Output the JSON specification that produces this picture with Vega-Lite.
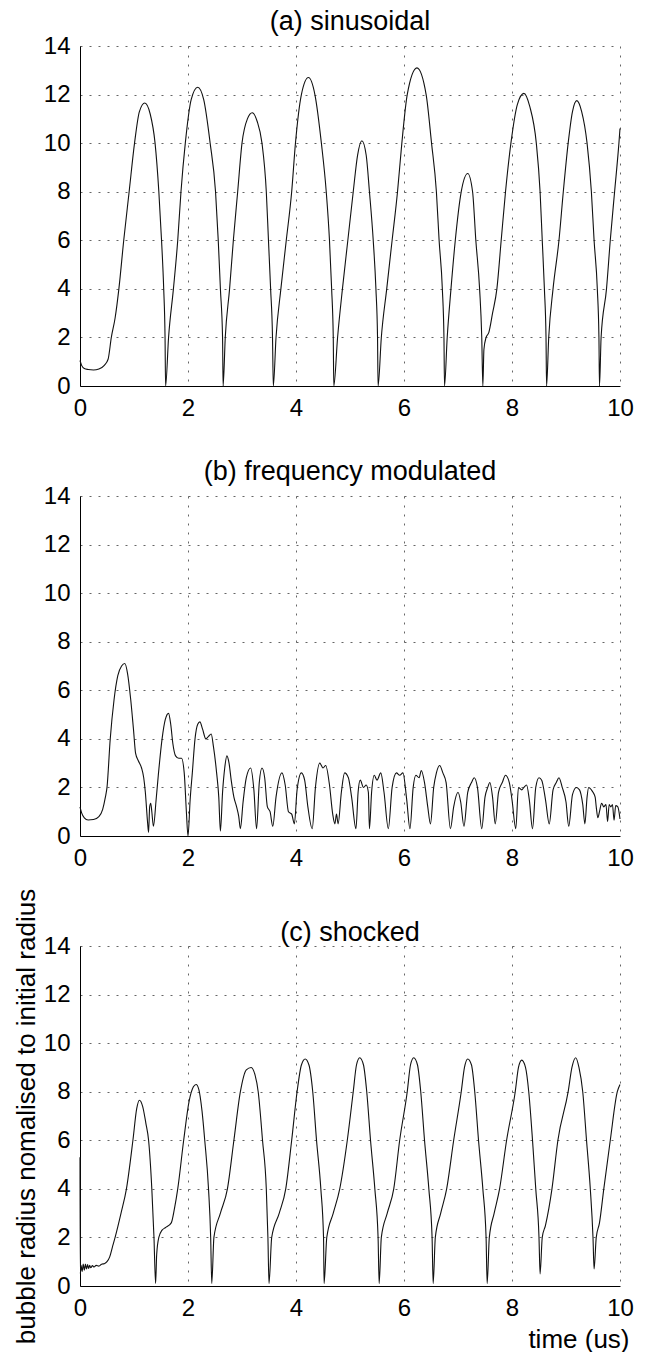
{
  "$schema": "https://vega.github.io/schema/vega-lite/v6.json",
  "background": "white",
  "padding": {"left": 13, "top": 8, "right": 10, "bottom": 0},
  "spacing": 110,
  "bounds": "flush",
  "config": {
    "font": "Liberation Sans",
    "view": {"stroke": null},
    "axis": {
      "labelFont": "Liberation Sans",
      "labelFontSize": 24,
      "labelColor": "#000",
      "labelFlush": false,
      "labelOverlap": false,
      "ticks": false,
      "domainColor": "#000",
      "domainWidth": 1,
      "grid": true,
      "gridColor": "#000",
      "gridOpacity": 0.6,
      "gridDash": [2, 7],
      "gridWidth": 1,
      "titleFont": "Liberation Sans",
      "titleFontWeight": "normal",
      "titleColor": "#000"
    },
    "axisX": {"labelPadding": 10},
    "axisY": {"labelPadding": 10},
    "title": {"font": "Liberation Sans", "fontSize": 27, "fontWeight": "normal", "color": "#000", "offset": -2}
  },
  "datasets": {
    "a": [
      {"t":0,"r":1.05},{"t":0.03,"r":0.85},{"t":0.08,"r":0.72},{"t":0.15,"r":0.68},{"t":0.25,"r":0.66},{"t":0.35,"r":0.7},{"t":0.45,"r":0.85},{"t":0.52,"r":1.1},{"t":0.58,"r":2.0},{"t":0.65,"r":2.8},{"t":0.72,"r":4.0},{"t":0.81,"r":6.0},{"t":0.91,"r":8.0},{"t":1.01,"r":10.0},{"t":1.1,"r":11.3},{"t":1.2,"r":11.65},{"t":1.3,"r":11.2},{"t":1.39,"r":10.0},{"t":1.46,"r":8.0},{"t":1.51,"r":6.0},{"t":1.55,"r":4.0},{"t":1.575,"r":2.0},{"t":1.585,"r":0.0},
      {"t":1.64,"r":2.0},{"t":1.73,"r":4.0},{"t":1.81,"r":6.0},{"t":1.87,"r":8.0},{"t":1.95,"r":10.0},{"t":2.06,"r":11.8},{"t":2.18,"r":12.3},{"t":2.29,"r":11.8},{"t":2.41,"r":10.0},{"t":2.51,"r":8.0},{"t":2.56,"r":6.0},{"t":2.6,"r":4.0},{"t":2.64,"r":2.0},{"t":2.65,"r":0.0},
      {"t":2.69,"r":2.0},{"t":2.77,"r":4.0},{"t":2.84,"r":6.0},{"t":2.92,"r":8.0},{"t":3.0,"r":10.0},{"t":3.1,"r":11.0},{"t":3.19,"r":11.25},{"t":3.28,"r":10.9},{"t":3.37,"r":10.0},{"t":3.45,"r":8.0},{"t":3.49,"r":6.0},{"t":3.53,"r":4.0},{"t":3.565,"r":2.0},{"t":3.58,"r":0.0},
      {"t":3.63,"r":2.0},{"t":3.72,"r":4.0},{"t":3.82,"r":6.0},{"t":3.92,"r":8.0},{"t":3.99,"r":10.0},{"t":4.1,"r":12.0},{"t":4.23,"r":12.7},{"t":4.35,"r":12.0},{"t":4.47,"r":10.0},{"t":4.56,"r":8.0},{"t":4.62,"r":6.0},{"t":4.66,"r":4.0},{"t":4.69,"r":2.0},{"t":4.7,"r":0.0},
      {"t":4.77,"r":2.0},{"t":4.86,"r":4.0},{"t":4.96,"r":6.0},{"t":5.06,"r":8.0},{"t":5.14,"r":9.5},{"t":5.22,"r":10.1},{"t":5.3,"r":9.5},{"t":5.36,"r":8.0},{"t":5.43,"r":6.0},{"t":5.48,"r":4.0},{"t":5.51,"r":2.0},{"t":5.52,"r":0.0},
      {"t":5.58,"r":2.0},{"t":5.68,"r":4.0},{"t":5.78,"r":6.0},{"t":5.88,"r":8.0},{"t":5.96,"r":10.0},{"t":6.06,"r":12.0},{"t":6.24,"r":13.1},{"t":6.41,"r":12.0},{"t":6.51,"r":10.0},{"t":6.6,"r":8.0},{"t":6.65,"r":6.0},{"t":6.71,"r":4.0},{"t":6.74,"r":2.0},{"t":6.75,"r":0.0},
      {"t":6.8,"r":2.0},{"t":6.87,"r":4.0},{"t":6.95,"r":6.0},{"t":7.06,"r":8.0},{"t":7.18,"r":8.75},{"t":7.27,"r":8.0},{"t":7.33,"r":6.0},{"t":7.4,"r":4.0},{"t":7.44,"r":2.0},{"t":7.46,"r":0.0},
      {"t":7.48,"r":1.5},{"t":7.52,"r":2.0},{"t":7.57,"r":2.2},{"t":7.64,"r":3.0},{"t":7.72,"r":4.0},{"t":7.8,"r":6.0},{"t":7.88,"r":8.0},{"t":7.98,"r":10.0},{"t":8.1,"r":11.6},{"t":8.22,"r":12.05},{"t":8.33,"r":11.5},{"t":8.45,"r":10.0},{"t":8.52,"r":8.0},{"t":8.56,"r":6.0},{"t":8.6,"r":4.0},{"t":8.63,"r":2.0},{"t":8.64,"r":0.0},
      {"t":8.68,"r":2.0},{"t":8.76,"r":4.0},{"t":8.87,"r":6.0},{"t":8.95,"r":8.0},{"t":9.04,"r":10.0},{"t":9.12,"r":11.3},{"t":9.2,"r":11.75},{"t":9.29,"r":11.3},{"t":9.39,"r":10.0},{"t":9.47,"r":8.0},{"t":9.52,"r":6.0},{"t":9.58,"r":4.0},{"t":9.61,"r":2.0},{"t":9.62,"r":0.0},
      {"t":9.65,"r":2.0},{"t":9.75,"r":4.0},{"t":9.82,"r":6.0},{"t":9.9,"r":8.0},{"t":9.98,"r":10.0},{"t":10,"r":10.6}
    ],
    "b": [
      {"t":0,"r":1.2},{"t":0.03,"r":0.95},{"t":0.08,"r":0.75},{"t":0.15,"r":0.66},{"t":0.25,"r":0.68},{"t":0.35,"r":0.8},{"t":0.42,"r":1.1},{"t":0.47,"r":1.6},{"t":0.5,"r":2.0},{"t":0.56,"r":4.0},{"t":0.63,"r":5.6},{"t":0.7,"r":6.6},{"t":0.77,"r":7.0},{"t":0.83,"r":7.1},{"t":0.88,"r":6.7},{"t":0.94,"r":5.6},{"t":0.99,"r":4.4},{"t":1.03,"r":3.4},{"t":1.08,"r":3.1},{"t":1.14,"r":2.8},{"t":1.18,"r":2.4},{"t":1.21,"r":1.8},{"t":1.25,"r":0.6},{"t":1.27,"r":0.15},{"t":1.29,"r":1.2},{"t":1.31,"r":1.35},{"t":1.33,"r":1.0},{"t":1.36,"r":0.4},{"t":1.41,"r":1.5},{"t":1.45,"r":2.5},{"t":1.52,"r":4.0},{"t":1.58,"r":4.8},{"t":1.64,"r":5.05},{"t":1.68,"r":4.6},{"t":1.72,"r":3.8},{"t":1.77,"r":3.3},{"t":1.83,"r":3.2},{"t":1.88,"r":3.2},{"t":1.93,"r":2.6},{"t":1.97,"r":1.0},{"t":2.0,"r":0.0},
      {"t":2.04,"r":1.5},{"t":2.08,"r":2.6},{"t":2.13,"r":4.0},{"t":2.18,"r":4.6},{"t":2.22,"r":4.7},{"t":2.27,"r":4.4},{"t":2.33,"r":4.0},{"t":2.38,"r":4.1},{"t":2.43,"r":4.2},{"t":2.47,"r":3.7},{"t":2.53,"r":2.6},{"t":2.57,"r":1.6},{"t":2.6,"r":0.2},{"t":2.64,"r":1.8},{"t":2.68,"r":2.8},{"t":2.72,"r":3.3},{"t":2.76,"r":3.0},{"t":2.8,"r":2.3},{"t":2.85,"r":1.6},{"t":2.9,"r":1.2},{"t":2.94,"r":0.8},{"t":2.97,"r":0.3},
      {"t":3.02,"r":1.4},{"t":3.08,"r":2.4},{"t":3.16,"r":2.8},{"t":3.22,"r":1.9},{"t":3.27,"r":0.3},{"t":3.32,"r":2.2},{"t":3.37,"r":2.8},{"t":3.42,"r":2.4},{"t":3.47,"r":1.2},{"t":3.52,"r":1.0},{"t":3.57,"r":0.4},{"t":3.63,"r":1.6},{"t":3.74,"r":2.6},{"t":3.8,"r":2.1},{"t":3.86,"r":1.0},{"t":3.92,"r":0.9},{"t":3.97,"r":0.5},
      {"t":4.02,"r":1.9},{"t":4.1,"r":2.6},{"t":4.16,"r":2.3},{"t":4.22,"r":1.2},{"t":4.3,"r":0.3},{"t":4.36,"r":2.0},{"t":4.44,"r":3.0},{"t":4.5,"r":2.8},{"t":4.55,"r":2.9},{"t":4.62,"r":2.1},{"t":4.68,"r":0.9},{"t":4.72,"r":0.5},{"t":4.75,"r":0.9},{"t":4.78,"r":0.5},{"t":4.84,"r":1.8},{"t":4.9,"r":2.6},{"t":4.97,"r":2.4},
      {"t":5.03,"r":1.6},{"t":5.11,"r":0.3},{"t":5.15,"r":1.8},{"t":5.19,"r":2.3},{"t":5.25,"r":2.0},{"t":5.3,"r":2.1},{"t":5.34,"r":1.8},{"t":5.36,"r":0.3},{"t":5.4,"r":1.8},{"t":5.45,"r":2.5},{"t":5.5,"r":2.3},{"t":5.57,"r":2.6},{"t":5.63,"r":1.8},{"t":5.71,"r":0.3},{"t":5.78,"r":2.0},{"t":5.86,"r":2.6},{"t":5.92,"r":2.5},{"t":5.98,"r":2.6},
      {"t":6.05,"r":1.5},{"t":6.11,"r":0.3},{"t":6.17,"r":2.0},{"t":6.22,"r":2.5},{"t":6.28,"r":2.4},{"t":6.32,"r":2.7},{"t":6.38,"r":2.2},{"t":6.44,"r":1.2},{"t":6.49,"r":0.5},{"t":6.55,"r":2.0},{"t":6.6,"r":2.6},{"t":6.66,"r":2.9},{"t":6.72,"r":2.6},{"t":6.78,"r":2.2},{"t":6.86,"r":0.3},{"t":6.92,"r":1.2},
      {"t":7.0,"r":1.8},{"t":7.05,"r":1.4},{"t":7.11,"r":0.4},{"t":7.18,"r":1.8},{"t":7.25,"r":2.2},{"t":7.3,"r":2.4},{"t":7.36,"r":2.0},{"t":7.44,"r":0.3},{"t":7.5,"r":1.6},{"t":7.55,"r":2.0},{"t":7.59,"r":2.2},{"t":7.64,"r":1.6},{"t":7.69,"r":0.5},{"t":7.75,"r":1.8},{"t":7.82,"r":2.2},{"t":7.88,"r":2.5},{"t":7.95,"r":2.2},
      {"t":8.0,"r":1.5},{"t":8.07,"r":0.3},{"t":8.12,"r":2.0},{"t":8.18,"r":1.9},{"t":8.22,"r":2.0},{"t":8.27,"r":2.1},{"t":8.32,"r":1.5},{"t":8.38,"r":0.3},{"t":8.44,"r":2.0},{"t":8.5,"r":2.4},{"t":8.55,"r":2.3},{"t":8.62,"r":1.5},{"t":8.69,"r":0.5},{"t":8.76,"r":1.9},{"t":8.82,"r":2.2},{"t":8.87,"r":2.4},{"t":8.93,"r":2.0},
      {"t":9.0,"r":1.4},{"t":9.05,"r":0.4},{"t":9.12,"r":1.7},{"t":9.19,"r":2.0},{"t":9.25,"r":1.9},{"t":9.31,"r":1.3},{"t":9.35,"r":0.5},{"t":9.39,"r":1.6},{"t":9.42,"r":2.0},{"t":9.47,"r":1.9},{"t":9.5,"r":1.8},{"t":9.54,"r":1.6},{"t":9.56,"r":1.2},{"t":9.59,"r":0.75},{"t":9.62,"r":1.0},{"t":9.66,"r":1.35},{"t":9.7,"r":1.2},{"t":9.74,"r":1.3},{"t":9.77,"r":0.6},{"t":9.8,"r":1.3},{"t":9.83,"r":1.2},{"t":9.86,"r":1.3},{"t":9.89,"r":0.65},{"t":9.92,"r":1.25},{"t":9.96,"r":1.2},{"t":10,"r":0.7}
    ],
    "c": [
      {"t":0,"r":5.3},{"t":0.005,"r":0.5},{"t":0.02,"r":0.85},{"t":0.04,"r":0.6},{"t":0.06,"r":0.9},{"t":0.08,"r":0.65},{"t":0.1,"r":0.9},{"t":0.12,"r":0.7},{"t":0.14,"r":0.88},{"t":0.16,"r":0.72},{"t":0.18,"r":0.85},{"t":0.2,"r":0.75},{"t":0.23,"r":0.84},{"t":0.26,"r":0.78},{"t":0.3,"r":0.85},{"t":0.35,"r":0.82},{"t":0.4,"r":0.9},{"t":0.45,"r":0.92},{"t":0.5,"r":1.0},{"t":0.55,"r":1.2},{"t":0.6,"r":1.6},{"t":0.65,"r":2.0},{"t":0.76,"r":3.0},{"t":0.86,"r":4.0},{"t":0.98,"r":6.0},{"t":1.05,"r":7.3},{"t":1.1,"r":7.65},{"t":1.16,"r":7.4},{"t":1.22,"r":6.7},{"t":1.27,"r":6.0},{"t":1.33,"r":4.0},{"t":1.37,"r":2.0},{"t":1.4,"r":0.1},
      {"t":1.42,"r":1.3},{"t":1.46,"r":2.0},{"t":1.52,"r":2.3},{"t":1.58,"r":2.4},{"t":1.69,"r":2.6},{"t":1.75,"r":3.2},{"t":1.81,"r":4.0},{"t":1.92,"r":6.0},{"t":2.02,"r":7.6},{"t":2.1,"r":8.2},{"t":2.15,"r":8.3},{"t":2.2,"r":8.1},{"t":2.26,"r":7.2},{"t":2.31,"r":6.0},{"t":2.38,"r":4.0},{"t":2.42,"r":2.0},{"t":2.44,"r":0.1},
      {"t":2.48,"r":2.0},{"t":2.6,"r":3.0},{"t":2.73,"r":4.0},{"t":2.85,"r":6.0},{"t":2.97,"r":8.0},{"t":3.08,"r":8.9},{"t":3.17,"r":9.0},{"t":3.24,"r":8.7},{"t":3.3,"r":8.0},{"t":3.38,"r":6.0},{"t":3.45,"r":4.0},{"t":3.48,"r":2.0},{"t":3.5,"r":0.1},
      {"t":3.55,"r":2.0},{"t":3.69,"r":3.0},{"t":3.81,"r":4.0},{"t":3.92,"r":6.0},{"t":4.02,"r":8.0},{"t":4.1,"r":9.1},{"t":4.17,"r":9.35},{"t":4.24,"r":9.1},{"t":4.31,"r":8.0},{"t":4.38,"r":6.0},{"t":4.46,"r":4.0},{"t":4.51,"r":2.0},{"t":4.52,"r":0.1},
      {"t":4.57,"r":2.0},{"t":4.69,"r":3.0},{"t":4.81,"r":4.0},{"t":4.95,"r":6.0},{"t":5.06,"r":8.0},{"t":5.12,"r":9.1},{"t":5.18,"r":9.4},{"t":5.25,"r":9.1},{"t":5.31,"r":8.0},{"t":5.38,"r":6.0},{"t":5.46,"r":4.0},{"t":5.52,"r":2.0},{"t":5.54,"r":0.1},
      {"t":5.58,"r":2.0},{"t":5.69,"r":3.0},{"t":5.81,"r":4.0},{"t":5.92,"r":6.0},{"t":6.06,"r":8.0},{"t":6.12,"r":9.1},{"t":6.18,"r":9.4},{"t":6.25,"r":9.1},{"t":6.31,"r":8.0},{"t":6.38,"r":6.0},{"t":6.46,"r":4.0},{"t":6.52,"r":2.0},{"t":6.54,"r":0.1},
      {"t":6.58,"r":2.0},{"t":6.68,"r":3.0},{"t":6.79,"r":4.0},{"t":6.92,"r":6.0},{"t":7.06,"r":8.0},{"t":7.12,"r":9.0},{"t":7.18,"r":9.35},{"t":7.25,"r":9.1},{"t":7.31,"r":8.0},{"t":7.38,"r":6.0},{"t":7.46,"r":4.0},{"t":7.52,"r":2.0},{"t":7.54,"r":0.1},
      {"t":7.58,"r":2.0},{"t":7.67,"r":3.0},{"t":7.77,"r":4.0},{"t":7.9,"r":6.0},{"t":8.06,"r":8.0},{"t":8.12,"r":9.0},{"t":8.18,"r":9.3},{"t":8.25,"r":9.0},{"t":8.31,"r":8.0},{"t":8.38,"r":6.0},{"t":8.44,"r":4.0},{"t":8.5,"r":2.0},{"t":8.52,"r":0.5},
      {"t":8.56,"r":2.0},{"t":8.62,"r":2.5},{"t":8.74,"r":4.0},{"t":8.85,"r":6.0},{"t":9.04,"r":8.0},{"t":9.11,"r":9.0},{"t":9.18,"r":9.4},{"t":9.24,"r":9.0},{"t":9.31,"r":8.0},{"t":9.38,"r":6.0},{"t":9.45,"r":4.0},{"t":9.5,"r":2.0},{"t":9.52,"r":0.7},
      {"t":9.56,"r":2.0},{"t":9.62,"r":2.6},{"t":9.7,"r":4.0},{"t":9.82,"r":6.0},{"t":9.95,"r":8.0},{"t":10,"r":8.3}
    ]
  },
  "vconcat": [
    {
      "title": "(a) sinusoidal",
      "width": 540,
      "height": 340,
      "data": {"name": "a"},
      "mark": {"type": "line", "color": "#111", "strokeWidth": 1.1, "interpolate": "monotone"},
      "encoding": {
        "x": {"field": "t", "type": "quantitative", "scale": {"domain": [0, 10], "nice": false}, "axis": {"values": [0,2,4,6,8,10], "title": null}},
        "y": {"field": "r", "type": "quantitative", "scale": {"domain": [0, 14], "nice": false}, "axis": {"values": [0,2,4,6,8,10,12,14], "title": null}}
      }
    },
    {
      "title": "(b) frequency modulated",
      "width": 540,
      "height": 340,
      "data": {"name": "b"},
      "mark": {"type": "line", "color": "#111", "strokeWidth": 1.1, "interpolate": "monotone"},
      "encoding": {
        "x": {"field": "t", "type": "quantitative", "scale": {"domain": [0, 10], "nice": false}, "axis": {"values": [0,2,4,6,8,10], "title": null}},
        "y": {"field": "r", "type": "quantitative", "scale": {"domain": [0, 14], "nice": false}, "axis": {"values": [0,2,4,6,8,10,12,14], "title": null}}
      }
    },
    {
      "title": {"text": "(c) shocked", "offset": -59},
      "width": 540,
      "height": 340,
      "data": {"name": "c"},
      "mark": {"type": "line", "color": "#111", "strokeWidth": 1.1, "interpolate": "monotone"},
      "encoding": {
        "x": {"field": "t", "type": "quantitative", "scale": {"domain": [0, 10], "nice": false}, "axis": {"values": [0,2,4,6,8,10], "title": "time (us)", "titleFontSize": 26, "titleAlign": "right", "titleAnchor": "end", "titleX": 549, "titleY": 53, "titleBaseline": "middle"}},
        "y": {"field": "r", "type": "quantitative", "scale": {"domain": [0, 14], "nice": false}, "axis": {"values": [0,2,4,6,8,10,12,14], "title": "bubble radius nomalised to initial radius", "titleFontSize": 26, "titlePadding": 4}}
      }
    }
  ]
}
